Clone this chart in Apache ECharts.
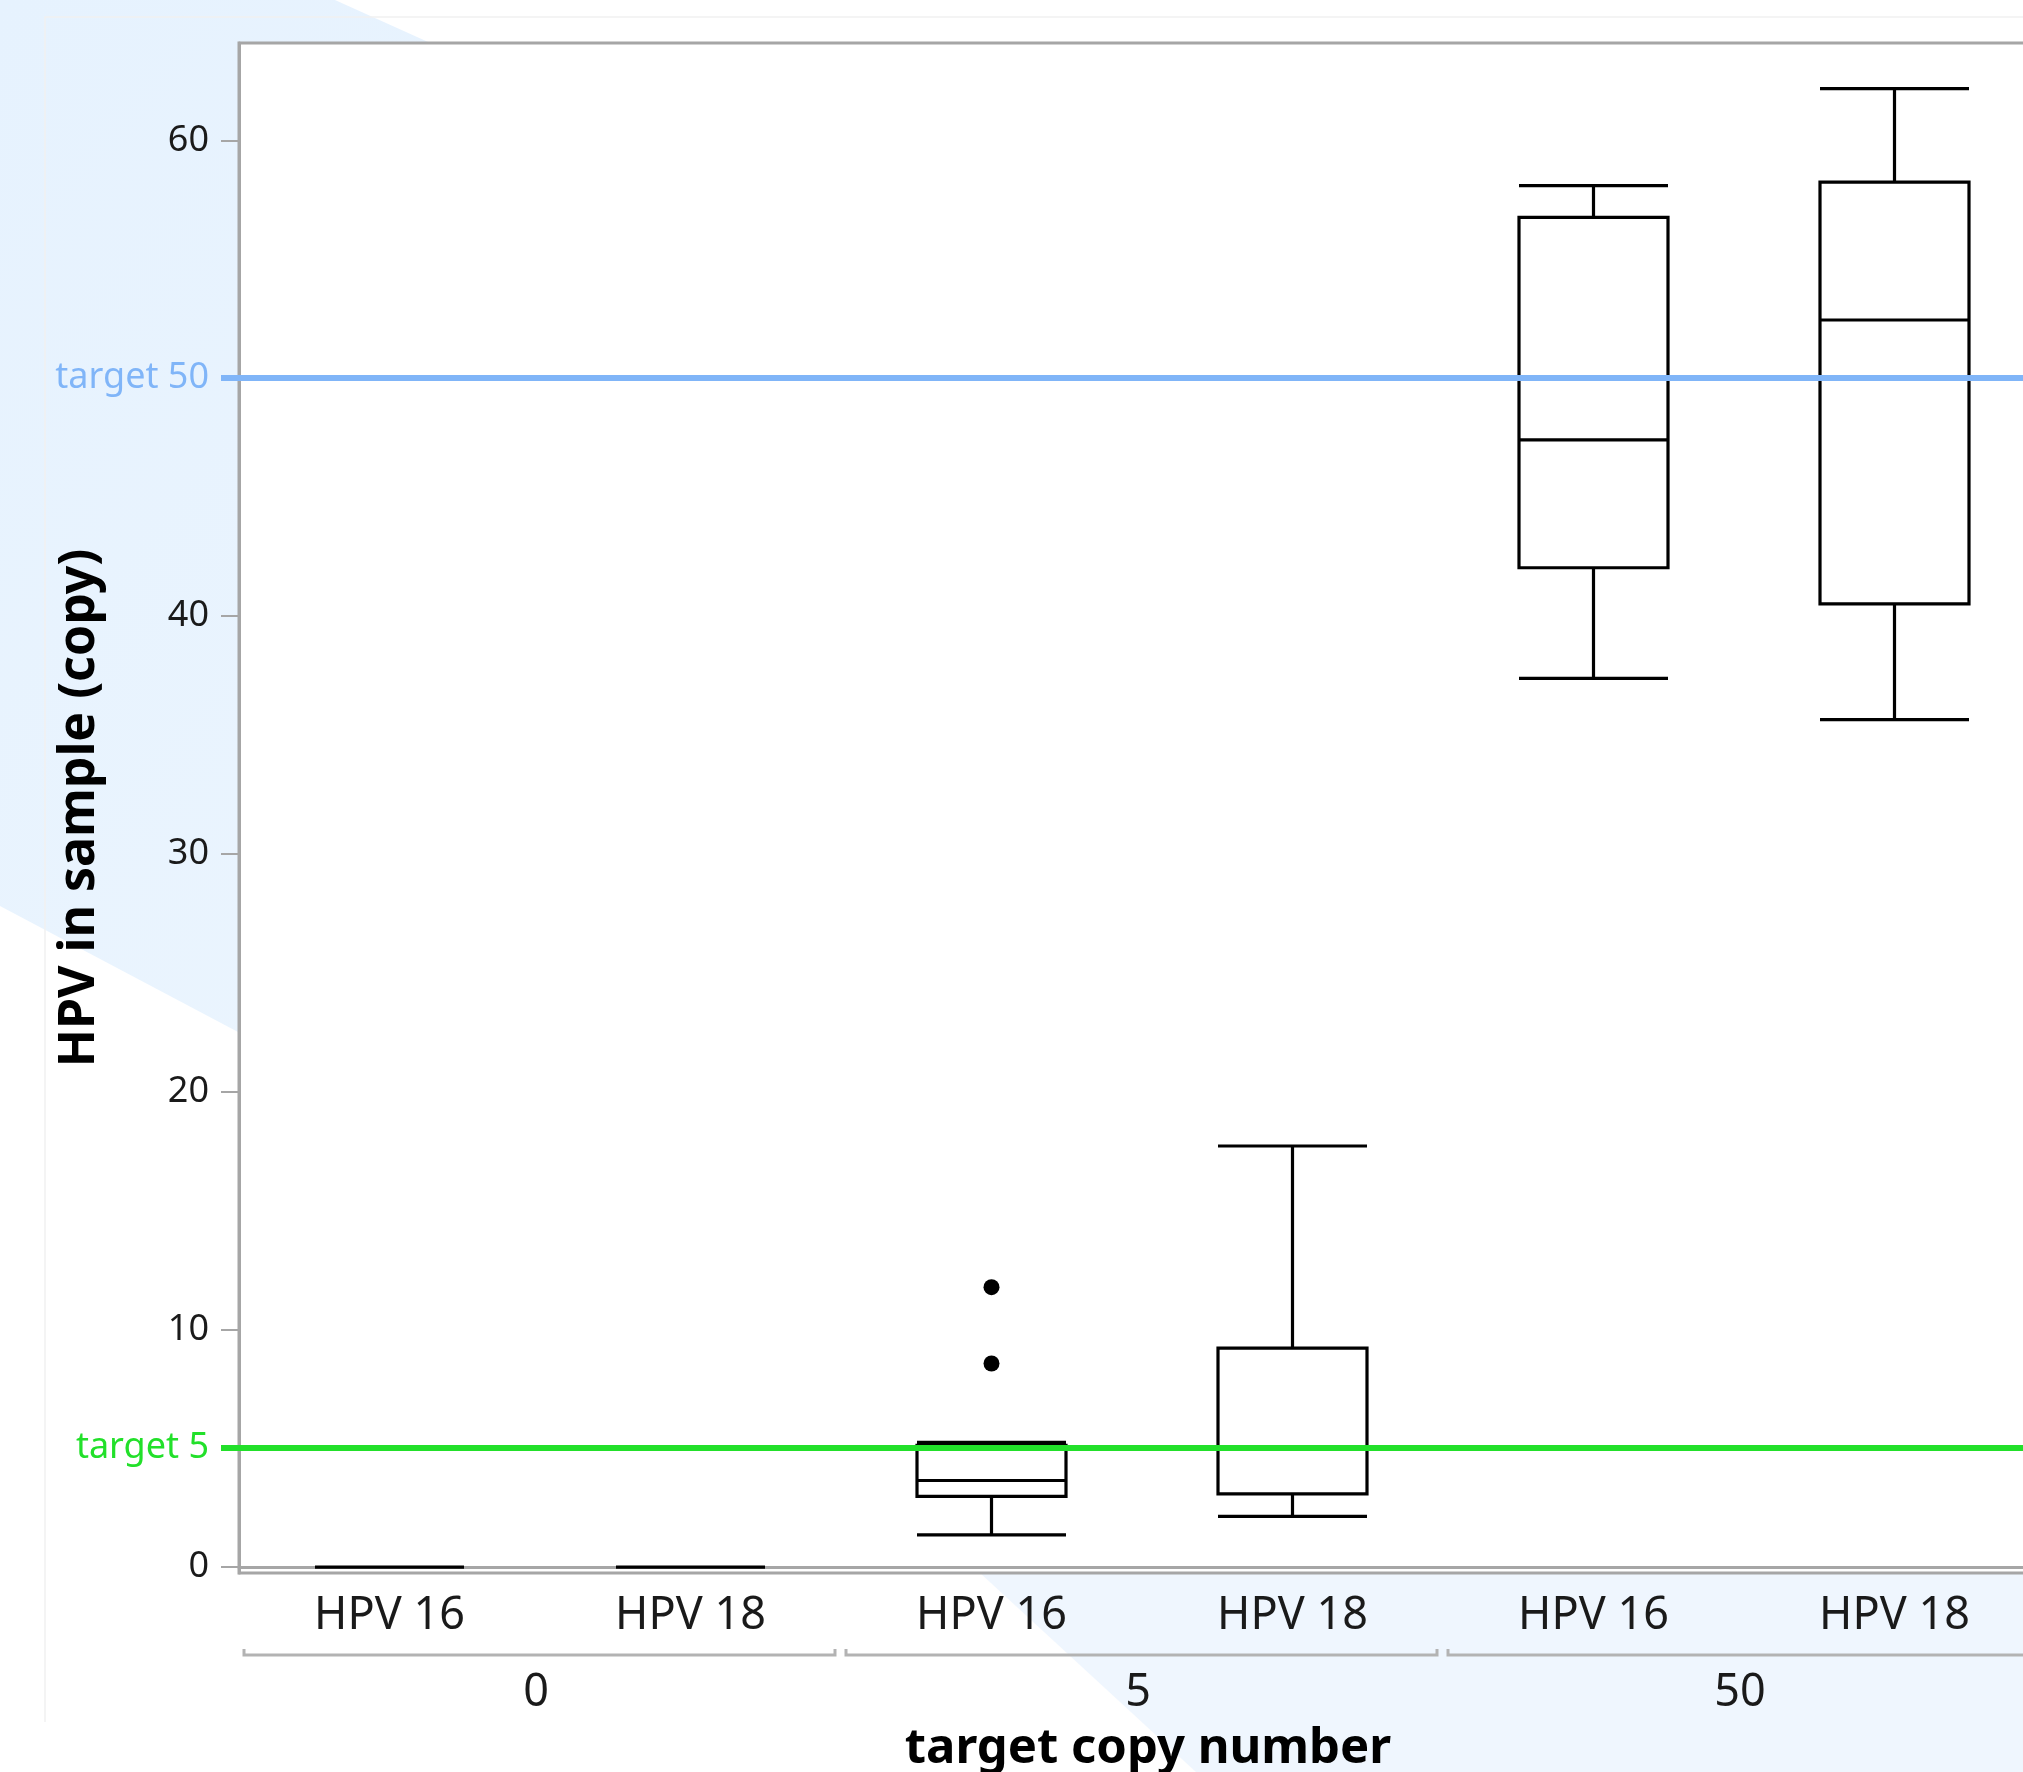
<!DOCTYPE html>
<html>
<head>
<meta charset="utf-8">
<script src="https://cdn.jsdelivr.net/npm/echarts@6/dist/echarts.min.js"></script>
<style>
html,body{margin:0;padding:0;background:#fff;}
#chart{width:2023px;height:1772px;}
</style>
</head>
<body>
<div id="chart"></div>
<script>
// ---- data ----
const groups = ['0', '5', '50'];
const types = ['HPV 16', 'HPV 18'];
// [min, Q1, median, Q3, max] per group x type, in the order of the x axis
const boxValues = [
  [0, 0, 0, 0, 0],
  [0, 0, 0, 0, 0],
  [1.35, 2.97, 3.64, 5.12, 5.25],
  [2.13, 3.08, 4.97, 9.21, 17.71],
  [37.38, 42.03, 47.41, 56.77, 58.10],
  [35.64, 40.51, 52.45, 58.25, 62.18]
];
// outliers: [category index, value]
const outlierPoints = [[2, 11.77], [2, 8.56]];
const yTicks = [0, 10, 20, 30, 40, 60];
const targetLow = 5;
const targetHigh = 50;
const targetLowLabel = 'target 5';
const targetHighLabel = 'target 50';
const yMin = -0.25;
const yMax = 64.1;

// ---- build ----
const categoryKeys = [];
groups.forEach(g => types.forEach(t => categoryKeys.push(g + '|' + t)));
const bracketData = groups.map((g, i) => [i, yMin]);

const FONT = 'Noto Sans';
const GREEN = '#22e02a';
const BLUE = '#80b5f8';
const AXIS_GRAY = '#a6a6a6';

const chart = echarts.init(document.getElementById('chart'), null, {renderer: 'canvas'});

function targetAxis(value, label, color) {
  return {
    type: 'value', gridIndex: 0, position: 'left', min: yMin, max: yMax,
    axisLine: {show: false},
    splitLine: {show: false},
    axisTick: {show: true, customValues: [value], length: 18, lineStyle: {color: color, width: 6}},
    axisLabel: {show: true, customValues: [value], formatter: () => label, color: color,
      fontSize: 36, fontFamily: FONT, margin: 30, padding: [3, 0, 0, 0]}
  };
}

const option = {
  backgroundColor: '#ffffff',
  animation: false,
  graphic: [
    {type: 'polygon', z: -10, silent: true,
      shape: {points: [[0, 0], [335, 0], [1200, 390], [238, 1032], [0, 906]]},
      style: {fill: new echarts.graphic.LinearGradient(0, 0, 1, 1, [
        {offset: 0, color: '#e6f2fe'}, {offset: 1, color: '#edf6fe'}])}},
    {type: 'polygon', z: -10, silent: true,
      shape: {points: [[966, 1560], [2023, 1560], [2023, 1772], [1196, 1772]]},
      style: {fill: '#eff6fe'}},
    {type: 'polyline', z: -9, silent: true,
      shape: {points: [[45, 1722], [45, 17], [2023, 17]]},
      style: {stroke: '#f1f1f1', lineWidth: 1.5, fill: null}}
  ],
  grid: {
    left: 239, top: 43, width: 1806, height: 1530,
    show: true, backgroundColor: '#ffffff', borderColor: AXIS_GRAY, borderWidth: 3,
    containLabel: false, outerBoundsMode: 'none'
  },
  xAxis: [
    {
      type: 'category', gridIndex: 0, position: 'bottom', data: categoryKeys, boundaryGap: true,
      axisLine: {show: true, lineStyle: {color: AXIS_GRAY, width: 3}},
      axisTick: {show: false},
      splitLine: {show: false},
      axisLabel: {interval: 0, formatter: v => v.split('|')[1], fontSize: 45,
        fontFamily: FONT, color: '#1a1a1a', margin: 21}
    },
    {
      type: 'category', gridIndex: 0, position: 'bottom', data: groups, boundaryGap: true,
      axisLine: {show: false}, axisTick: {show: false}, splitLine: {show: false},
      axisLabel: {interval: 0, fontSize: 45, fontFamily: FONT, color: '#1a1a1a', margin: 98,
        padding: [0, 8, 0, 0]},
      name: 'target copy number', nameLocation: 'middle', nameGap: 152,
      nameTextStyle: {fontSize: 49, fontWeight: 'bold', fontFamily: FONT, color: '#000',
        padding: [0, 0, 0, 12]}
    }
  ],
  yAxis: [
    {
      type: 'value', gridIndex: 0, position: 'left', min: yMin, max: yMax,
      axisLine: {show: true, lineStyle: {color: AXIS_GRAY, width: 3}},
      axisTick: {show: true, customValues: yTicks, length: 18, lineStyle: {color: AXIS_GRAY, width: 2}},
      axisLabel: {show: true, customValues: yTicks, fontSize: 36, fontFamily: FONT,
        color: '#1a1a1a', margin: 30},
      splitLine: {show: false},
      name: 'HPV in sample (copy)', nameLocation: 'middle', nameGap: 134,
      nameTextStyle: {fontSize: 50, fontWeight: 'bold', fontFamily: FONT, color: '#000'}
    },
    targetAxis(targetLow, targetLowLabel, GREEN),
    targetAxis(targetHigh, targetHighLabel, BLUE)
  ],
  series: [
    {
      type: 'line', xAxisIndex: 0, yAxisIndex: 0, data: [], z: 1, silent: true,
      markLine: {
        silent: true, symbol: ['none', 'none'], label: {show: false},
        lineStyle: {type: 'solid', width: 6},
        data: [
          {yAxis: targetLow, lineStyle: {color: GREEN, type: 'solid', width: 6}},
          {yAxis: targetHigh, lineStyle: {color: BLUE, type: 'solid', width: 6}}
        ]
      }
    },
    {
      type: 'boxplot', xAxisIndex: 0, yAxisIndex: 0, data: boxValues, z: 3,
      boxWidth: [149, 149], silent: true,
      itemStyle: {color: 'rgba(255,255,255,0)', borderColor: '#000', borderWidth: 3.2},
      emphasis: {disabled: true}
    },
    {
      type: 'scatter', xAxisIndex: 0, yAxisIndex: 0, data: outlierPoints, z: 4,
      symbol: 'circle', symbolSize: 16, silent: true,
      itemStyle: {color: '#000', opacity: 1}
    },
    {
      type: 'custom', xAxisIndex: 1, yAxisIndex: 0, data: bracketData, z: 2, silent: true,
      clip: false,
      renderItem: function (params, api) {
        const c = api.coord([api.value(0), api.value(1)]);
        const w = api.size([1, 0])[0];
        const x0 = c[0] - w / 2 + 5;
        const x1 = c[0] + w / 2 - 6;
        const y = c[1] + 82;
        return {
          type: 'polyline',
          shape: {points: [[x0, y - 6], [x0, y], [x1, y], [x1, y - 6]]},
          style: {stroke: '#b3b3b3', lineWidth: 3, fill: null}
        };
      }
    }
  ]
};
chart.setOption(option);
</script>
</body>
</html>
